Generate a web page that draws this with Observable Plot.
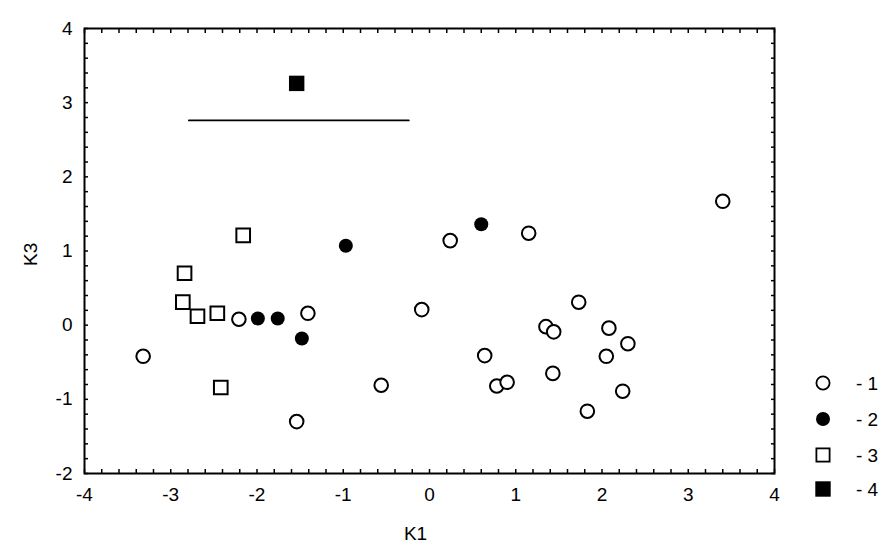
<!DOCTYPE html>
<html><head><meta charset="utf-8">
<script src="https://cdn.jsdelivr.net/npm/d3@7"></script>
<script src="https://cdn.jsdelivr.net/npm/@observablehq/plot@0.6"></script>
<style>
body{margin:0;background:#fff;}
#wrap{position:relative;width:895px;height:559px;font-family:"Liberation Sans",Arial,sans-serif;}
#legend{position:absolute;left:0;top:0;}
</style></head><body>
<div id="wrap"><div id="chart"></div><svg id="legend" width="895" height="559"></svg></div>
<script>
// Group 1 (open circles)
const g1X = [-3.32, -2.21, -1.41, -1.54, -0.09, -0.56, 0.24, 1.15, 3.40, 1.73, 1.35, 1.44, 2.08, 2.30, 2.05, 0.64, 0.78, 0.90, 1.43, 2.24, 1.83];
const g1Y = [-0.42, 0.08, 0.16, -1.30, 0.21, -0.81, 1.14, 1.24, 1.67, 0.31, -0.02, -0.09, -0.04, -0.25, -0.42, -0.41, -0.82, -0.77, -0.65, -0.89, -1.16];
// Group 2 (filled circles)
const g2X = [-0.97, 0.60, -1.99, -1.76, -1.48];
const g2Y = [1.07, 1.36, 0.09, 0.09, -0.18];
// Group 3 (open squares)
const g3X = [-2.16, -2.84, -2.86, -2.69, -2.46, -2.42];
const g3Y = [1.21, 0.70, 0.31, 0.12, 0.16, -0.84];
// Group 4 (filled square)
const g4X = [-1.54];
const g4Y = [3.26];
// horizontal segment
const segX = [-2.79, -0.24];
const segY = [2.76, 2.76];
// axes
const xTicks = [-4, -3, -2, -1, 0, 1, 2, 3, 4];
const yTicks = [-2, -1, 0, 1, 2, 3, 4];
const xMinor = d3.range(-40, 41, 2).map(v => v / 10);
const yMinor = d3.range(-20, 41, 2).map(v => v / 10);
const xLabel = "K1";
const yLabel = "K3";
const legendLabels = ["- 1", "- 2", "- 3", "- 4"];

const toPts = (xs, ys) => xs.map((x, i) => ({x, y: ys[i]}));
const seg = toPts(segX, segY);

const tickAxis = (fn, anchor, ticks, size) =>
  fn({anchor, ticks, tickSize: -size, tickFormat: () => "", label: null, strokeWidth: 1.5});

const chart = Plot.plot({
  width: 895, height: 559,
  marginLeft: 84, marginRight: 121, marginTop: 28, marginBottom: 86,
  style: {fontFamily: "Liberation Sans, Arial, sans-serif", fontSize: "19px", color: "#000", background: "#fff"},
  x: {domain: [-4, 4]},
  y: {domain: [-2, 4]},
  marks: [
    tickAxis(Plot.axisX, "bottom", xMinor, 4),
    tickAxis(Plot.axisX, "top", xMinor, 4),
    tickAxis(Plot.axisY, "left", yMinor, 4),
    tickAxis(Plot.axisY, "right", yMinor, 4),
    Plot.axisX({anchor: "bottom", ticks: xTicks, tickSize: 0, tickPadding: 14, tickFormat: d => String(d), label: null}),
    Plot.axisY({anchor: "left", ticks: yTicks, tickSize: 0, tickPadding: 12, tickFormat: d => String(d), label: null}),
    Plot.frame({stroke: "#000", strokeWidth: 2}),
    Plot.text([xLabel], {text: d => d, frameAnchor: "bottom", dx: -14, dy: 60, lineAnchor: "middle"}),
    Plot.text([yLabel], {text: d => d, frameAnchor: "left", dx: -54, dy: 15, rotate: -90, lineAnchor: "middle"}),
    Plot.line(seg, {x: "x", y: "y", stroke: "#000", strokeWidth: 1.8}),
    Plot.dot(toPts(g1X, g1Y), {x: "x", y: "y", r: 6.8, stroke: "#000", strokeWidth: 2, fill: "#fff", symbol: "circle"}),
    Plot.dot(toPts(g2X, g2Y), {x: "x", y: "y", r: 7, fill: "#000", stroke: "none", symbol: "circle"}),
    Plot.dot(toPts(g3X, g3Y), {x: "x", y: "y", r: 7.7, stroke: "#000", strokeWidth: 2, fill: "#fff", symbol: "square"}),
    Plot.dot(toPts(g4X, g4Y), {x: "x", y: "y", r: 8.7, fill: "#000", stroke: "none", symbol: "square"})
  ]
});
document.getElementById("chart").appendChild(chart);

// legend
const lg = d3.select("#legend");
const ys = [383, 419, 455, 489];
const sym = [
  {t: "circle", r: 6.6, fill: "#fff", stroke: "#000"},
  {t: "circle", r: 7, fill: "#000", stroke: "none"},
  {t: "square", s: 13.2, fill: "#fff", stroke: "#000"},
  {t: "square", s: 15.4, fill: "#000", stroke: "none"}
];
legendLabels.forEach((lab, i) => {
  const s = sym[i], cx = 823, cy = ys[i];
  if (s.t === "circle") lg.append("circle").attr("cx", cx).attr("cy", cy).attr("r", s.r).attr("fill", s.fill).attr("stroke", s.stroke).attr("stroke-width", 1.8);
  else lg.append("rect").attr("x", cx - s.s / 2).attr("y", cy - s.s / 2).attr("width", s.s).attr("height", s.s).attr("fill", s.fill).attr("stroke", s.stroke).attr("stroke-width", 1.8);
  lg.append("text").attr("x", 856).attr("y", cy).attr("dy", "0.35em").attr("font-size", "19px").attr("font-family", "Liberation Sans, Arial, sans-serif").text(lab);
});
</script>
</body></html>
